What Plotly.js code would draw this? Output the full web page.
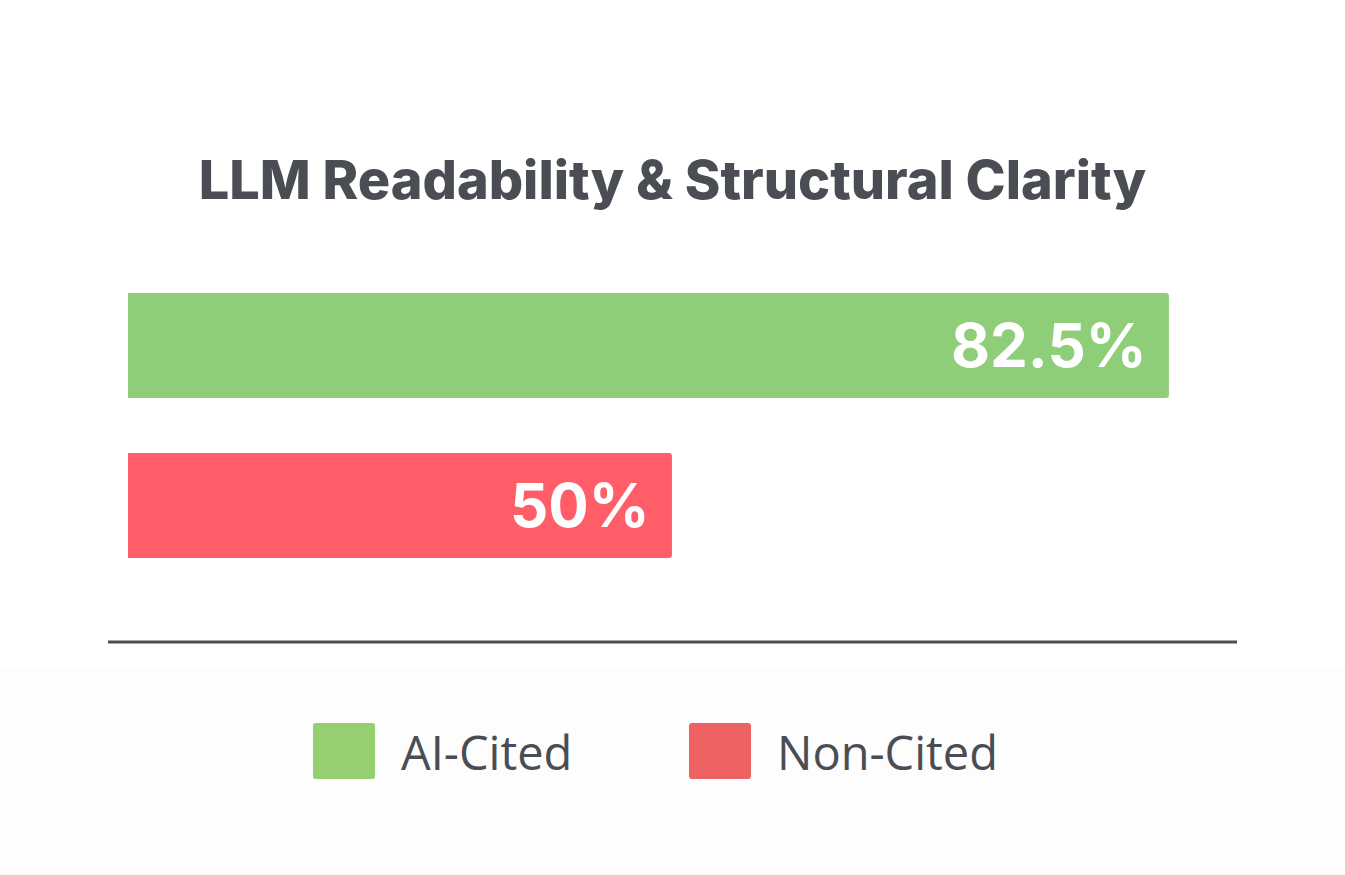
<!DOCTYPE html>
<html>
<head>
<meta charset="utf-8">
<script src="https://cdn.plot.ly/plotly-3.0.1.min.js"></script>
<style>
  html, body { margin: 0; padding: 0; background: #ffffff; }
  #chart { width: 1345px; height: 875px; }
</style>
</head>
<body>
<div id="chart"></div>
<script>
// ── Data ─────────────────────────────────────────────────────────────
const groups = ['AI-Cited', 'Non-Cited'];
const scores = [82.5, 50];
const barColors = ['#8fce79', '#ff5e69'];
const legendColors = ['#96cf6f', '#ee6262'];
const chartTitle = 'LLM Readability &amp; Structural Clarity';

const textColor = '#4a4e54';

// ── Plot ─────────────────────────────────────────────────────────────
const barTrace = {
    type: 'bar',
    orientation: 'h',
    x: scores,
    y: groups,
    marker: { color: barColors },
    hoverinfo: 'x+y',
    showlegend: false
};

// value labels sit inside the bar end, a bit in from the edge
const valueLabels = scores.map((v, i) => ({
    x: v, y: groups[i], xref: 'x', yref: 'y',
    text: v + '%',
    showarrow: false,
    xanchor: 'right', yanchor: 'middle',
    xshift: -20,
    font: { family: 'Inter, sans-serif', size: 60, color: '#ffffff', weight: 700 }
}));

// legend drawn by hand so the swatches can be large
const legendX = [313, 689];
const legendShapes = groups.map((g, i) => {
    // rounded square swatch, 62 x 56 px
    const x0 = legendX[i], x1 = legendX[i] + 62, y0 = 723, y1 = 779, r = 3;
    return {
        type: 'path', xref: 'paper', yref: 'paper',
        path: `M${x0 + r},${y0} H${x1 - r} Q${x1},${y0} ${x1},${y0 + r} V${y1 - r} Q${x1},${y1} ${x1 - r},${y1}`
            + ` H${x0 + r} Q${x0},${y1} ${x0},${y1 - r} V${y0 + r} Q${x0},${y0} ${x0 + r},${y0} Z`,
        fillcolor: legendColors[i], line: { width: 0 }
    };
});
const legendLabels = groups.map((g, i) => ({
    x: (legendX[i] + 86) / 1345, y: 1 - 752 / 875,
    xref: 'paper', yref: 'paper',
    text: g, showarrow: false,
    xanchor: 'left', yanchor: 'middle',
    font: { family: '"Open Sans", sans-serif', size: 47, color: textColor }
}));

const layout = {
    width: 1345,
    height: 875,
    margin: { l: 0, r: 0, t: 0, b: 0 },
    paper_bgcolor: '#ffffff',
    plot_bgcolor: 'rgba(0,0,0,0)',
    title: {
        text: chartTitle,
        x: 0.5, xanchor: 'center',
        y: 1 - 180 / 875, yanchor: 'middle',
        xref: 'paper', yref: 'paper',
        font: { family: 'Inter, sans-serif', size: 54, color: textColor, weight: 800 }
    },
    xaxis: {
        domain: [128 / 1345, 1237 / 1345],
        range: [14.43, 86.95],
        visible: false,
        fixedrange: true
    },
    yaxis: {
        domain: [1 - 585.5 / 875, 1 - 265.5 / 875],
        autorange: 'reversed',
        visible: false,
        fixedrange: true
    },
    bargap: 0.344,
    barcornerradius: 3,
    shapes: [
        {   // faint footer panel
            type: 'rect', xref: 'paper', yref: 'paper',
            x0: 0, x1: 1, y0: 0, y1: 1 - 668 / 875,
            fillcolor: '#fdfdfd', line: { width: 0 }, layer: 'below'
        },
        {   // divider rule under the bars
            type: 'line', xref: 'paper', yref: 'paper',
            x0: 108 / 1345, x1: 1237 / 1345,
            y0: 1 - 642 / 875, y1: 1 - 642 / 875,
            line: { color: textColor, width: 3 }
        }
    ],
    annotations: valueLabels.concat(legendLabels),
    showlegend: false
};

// swatch paths are in pixel terms; convert to paper fractions
legendShapes.forEach(s => {
    s.path = s.path.replace(/(-?\d+(\.\d+)?),(-?\d+(\.\d+)?)/g,
        (m, px, a, py) => (px / 1345).toFixed(5) + ',' + (1 - py / 875).toFixed(5))
        .replace(/H(\d+(\.\d+)?)/g, (m, px) => 'H' + (px / 1345).toFixed(5))
        .replace(/V(\d+(\.\d+)?)/g, (m, py) => 'V' + (1 - py / 875).toFixed(5));
    layout.shapes.push(s);
});

Plotly.newPlot('chart', [barTrace], layout, { displayModeBar: false, staticPlot: true });
</script>
</body>
</html>
